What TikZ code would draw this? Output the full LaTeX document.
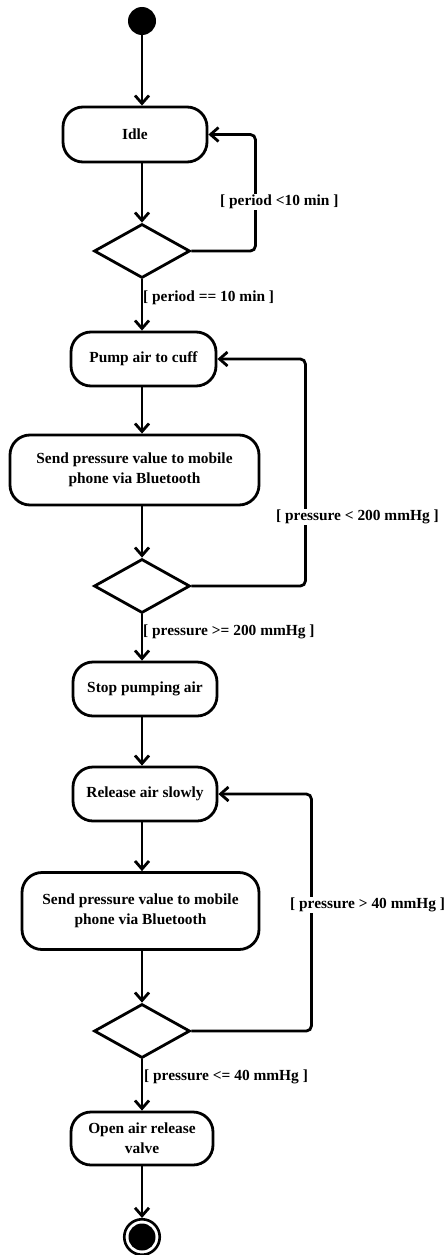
\documentclass[tikz,border=0pt]{standalone}
\usepackage{fontspec}
\setmainfont{Liberation Serif}
\usetikzlibrary{arrows.meta,shapes.geometric}
\begin{document}
\begin{tikzpicture}[x=1pt,y=-1pt,
  every node/.style={font=\fontsize{15.4}{20}\selectfont\bfseries},
  flow/.style={line width=2.8pt, -{Straight Barb[length=8pt,width=14pt]}, rounded corners=5pt},
  act/.style={draw, line width=2.8pt, rounded corners=20pt, inner sep=0pt, align=center},
  dec/.style={draw, diamond, line width=2.8pt, inner sep=0pt, minimum width=96pt, minimum height=54pt},
  guard/.style={inner sep=1pt, anchor=west},
  guardw/.style={inner sep=1pt, anchor=west, fill=white}]
\useasboundingbox (0,0) rectangle (445,1255);
% start
\node[circle, fill=black, minimum size=28pt, inner sep=0pt] (start) at (142,21) {};
% activities
\node[act, minimum width=144pt, minimum height=55pt] (idle) at (135,134.5) {Idle};
\node[dec] (d1) at (142,251) {};
\node[act, minimum width=145pt, minimum height=54pt] (pump) at (143.5,359) {Pump air to cuff};
\node[act, minimum width=249pt, minimum height=70pt] (send1) at (134.5,470) {Send pressure value to mobile\\phone via Bluetooth};
\node[dec] (d2) at (142,586) {};
\node[act, minimum width=144pt, minimum height=54pt] (stop) at (145,689) {Stop pumping air};
\node[act, minimum width=144pt, minimum height=54pt] (release) at (145,794) {Release air slowly};
\node[act, minimum width=237pt, minimum height=77pt] (send2) at (140.5,911) {Send pressure value to mobile\\phone via Bluetooth};
\node[dec] (d3) at (142,1031) {};
\node[act, minimum width=142pt, minimum height=53pt] (open) at (142,1138.5) {Open air release\\valve};
% end
\node[circle, draw, line width=2.6pt, minimum size=35.5pt, inner sep=0pt] (endring) at (142,1237) {};
\node[circle, fill=black, minimum size=27pt, inner sep=0pt] (enddot) at (endring.center) {};
% main flow
\draw[flow] (start) -- (start |- idle.north);
\draw[flow] (d1 |- idle.south) -- (d1.north);
\draw[flow] (d1.south) -- (d1 |- pump.north);
\draw[flow] (d1 |- pump.south) -- (d1 |- send1.north);
\draw[flow] (d1 |- send1.south) -- (d2.north);
\draw[flow] (d2.south) -- (d2 |- stop.north);
\draw[flow] (d2 |- stop.south) -- (d2 |- release.north);
\draw[flow] (d2 |- release.south) -- (d2 |- send2.north);
\draw[flow] (d2 |- send2.south) -- (d3.north);
\draw[flow] (d3.south) -- (d3 |- open.north);
\draw[flow] (d3 |- open.south) -- (endring.north);
% loops
\draw[flow] (d1.east) -- ++(64,0) |- (idle.east);
\draw[flow] (d2.east) -- ++(114,0) |- (pump.east);
\draw[flow] (d3.east) -- ++(120,0) |- (release.east);
% guards
\node[guardw] (g1) at (219,202) {[ period <10 min ]};
\node[guard] (g2) at (142,298) {[ period == 10 min ]};
\node[guardw] (g3) at (275,517) {[ pressure < 200 mmHg ]};
\node[guard] (g4) at (142,632) {[ pressure >= 200 mmHg ]};
\node[guardw] (g5) at (289,905) {[ pressure > 40 mmHg ]};
\node[guard] (g6) at (143,1077) {[ pressure <= 40 mmHg ]};
\end{tikzpicture}
\end{document}
